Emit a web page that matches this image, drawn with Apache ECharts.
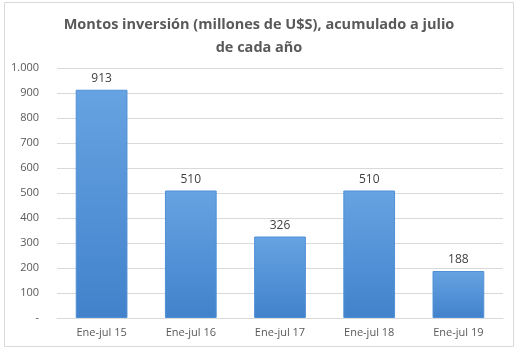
<!DOCTYPE html>
<html>
<head>
<meta charset="utf-8">
<script src="https://cdn.jsdelivr.net/npm/echarts@6/dist/echarts.min.js"></script>
<style>
  html, body { margin: 0; padding: 0; background: #fff; }
  #main { width: 518px; height: 354px; }
</style>
</head>
<body>
<div id="main"></div>
<script>
// datos
var periodos = ['Ene-jul 15', 'Ene-jul 16', 'Ene-jul 17', 'Ene-jul 18', 'Ene-jul 19'];
var montos = [913, 510, 326, 510, 188];

var myChart = echarts.init(document.getElementById('main'));

var option = {
    backgroundColor: '#fff',
    animation: false,
    title: {
        text: 'Montos inversión (millones de U$S), acumulado a julio\nde cada año',
        left: 'center',
        top: 8,
        textStyle: {
            fontFamily: 'Open Sans',
            fontSize: 14.5,
            fontWeight: 'bold',
            color: '#595959',
            lineHeight: 23
        }
    },
    graphic: [{
        type: 'rect',
        shape: { x: 4.5, y: 2.5, width: 509, height: 344 },
        style: { fill: 'none', stroke: '#d9d9d9', lineWidth: 1 },
        silent: true
    }],
    grid: {
        left: 57,
        right: 15,
        top: 68,
        bottom: 36
    },
    xAxis: {
        type: 'category',
        data: periodos,
        axisLine: { lineStyle: { color: '#d9d9d9' } },
        axisTick: { show: false },
        axisLabel: {
            color: '#595959',
            fontFamily: 'Open Sans',
            fontSize: 11,
            margin: 9
        }
    },
    yAxis: {
        type: 'value',
        min: 0,
        max: 1000,
        interval: 100,
        axisLine: { show: false },
        axisTick: { show: false },
        splitLine: { lineStyle: { color: '#d9d9d9' } },
        axisLabel: {
            color: '#595959',
            fontFamily: 'Open Sans',
            fontSize: 11,
            margin: 18,
            formatter: function (v) {
                if (v === 0) return '-';
                return v >= 1000 ? '1.000' : String(v);
            }
        }
    },
    series: [{
        type: 'bar',
        data: montos,
        barWidth: '58%',
        itemStyle: {
            color: new echarts.graphic.LinearGradient(0, 0, 0, 1, [
                { offset: 0, color: '#66a3e2' },
                { offset: 1, color: '#4282cb' }
            ]),
            borderColor: '#4f8fd6',
            borderWidth: 1
        },
        label: {
            show: true,
            position: 'top',
            distance: 5,
            color: '#404040',
            fontFamily: 'Open Sans',
            fontSize: 12
        }
    }]
};

myChart.setOption(option);
</script>
</body>
</html>
